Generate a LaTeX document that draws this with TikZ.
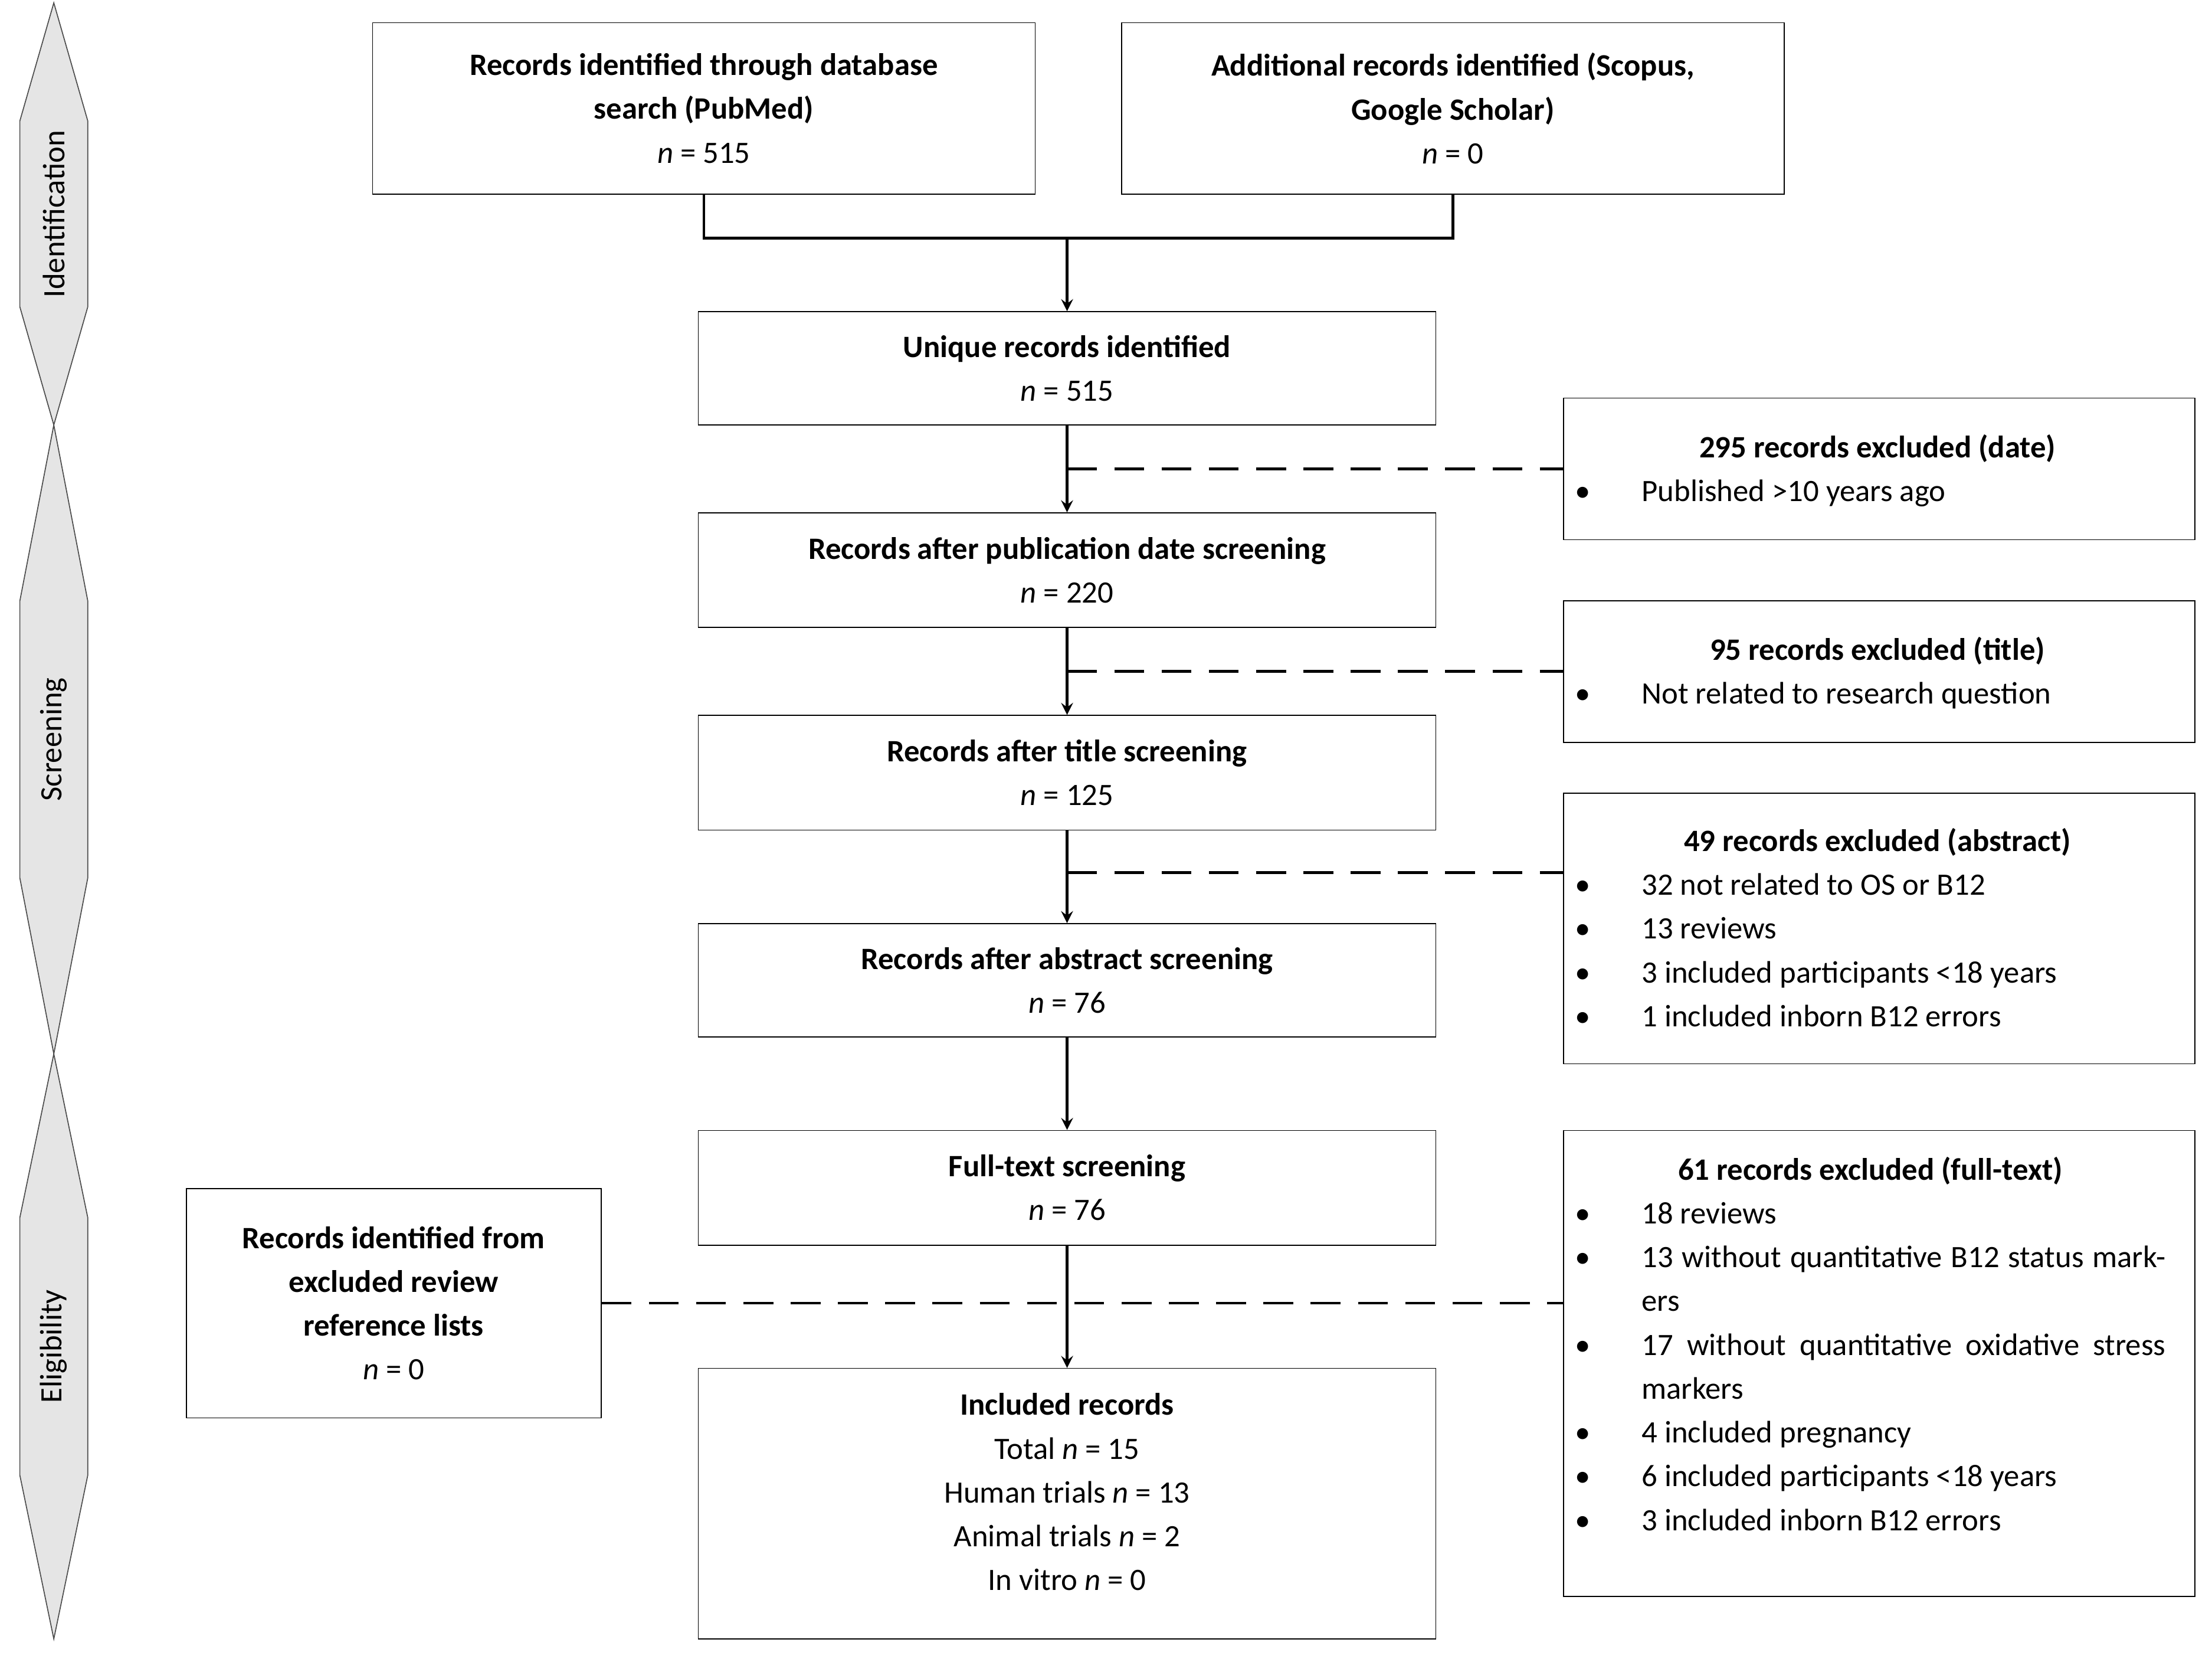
\documentclass[tikz,border=0pt]{standalone}
\usepackage{fontspec}
\setmainfont{Carlito}
\usetikzlibrary{positioning, calc}
\tikzset{
	box/.style={draw, thin, align=center, inner sep=0pt},
	arrow/.style={line width=1.1pt, ->, >=stealth},
	link/.style={line width=1.1pt},
	dashlink/.style={line width=1.1pt, dash pattern=on 12pt off 7pt},
	phase/.style={draw=black!70, fill=black!10, thin},
}
\newcommand{\phasebar}[3]{% top, bottom, label
	\pgfmathsetmacro{\tipd}{0.28*(#2-#1)}
	\draw[phase] (38,#1) -- (62,#1+\tipd) -- (62,#2-\tipd) -- (38,#2) -- (14,#2-\tipd) -- (14,#1+\tipd) -- cycle;
	\node[rotate=90] at (38,{(#1+#2)/2}) {#3};
}
\begin{document}
\begin{tikzpicture}[x=0.02cm, y=-0.02cm]
	\fontsize{12.5}{17.6}\selectfont
	\useasboundingbox (0,0) rectangle (1562,1171);
	% phase bars
	\phasebar{2}{300}{Identification}
	\phasebar{300}{744}{Screening}
	\phasebar{744}{1157}{Eligibility}

	% identification
	\node[box, minimum width=9.36cm, minimum height=2.42cm] (pubmed) at (497,76.5)
		{\textbf{Records identified through database}\\ \textbf{search (PubMed)}\\ \textit{n} = 515};
	\node[box, minimum width=9.36cm, minimum height=2.42cm] (extra) at (1026,76.5)
		{\textbf{Additional records identified (Scopus,}\\ \textbf{Google Scholar)}\\ \textit{n} = 0};
	\node[box, minimum width=10.42cm, minimum height=1.6cm] (unique) at (753.5,260)
		{\textbf{Unique records identified}\\ \textit{n} = 515};
	\coordinate (merge) at (753.5,168);
	\draw[link] (pubmed.south) |- (merge) -| (extra.south);
	\draw[arrow] (merge) -- (unique.north);

	% screening
	\node[box, minimum width=10.42cm, minimum height=1.62cm] (date) at (753.5,402.5)
		{\textbf{Records after publication date screening}\\ \textit{n} = 220};
	\node[box, minimum width=10.42cm, minimum height=1.62cm] (title) at (753.5,545.5)
		{\textbf{Records after title screening}\\ \textit{n} = 125};
	\node[box, minimum width=10.42cm, minimum height=1.6cm] (abstract) at (753.5,692)
		{\textbf{Records after abstract screening}\\ \textit{n} = 76};
	\node[box, minimum width=10.42cm, minimum height=1.62cm] (fulltext) at (753.5,838.5)
		{\textbf{Full-text screening}\\ \textit{n} = 76};
	\node[box, minimum width=10.42cm, minimum height=3.82cm] (included) at (753.5,1061.5) {};
	\node[anchor=north, align=center] (inclText) at (753.5,976)
		{\textbf{Included records}\\ Total \textit{n} = 15\\ Human trials \textit{n} = 13\\ Animal trials \textit{n} = 2\\ In vitro \textit{n} = 0};

	\draw[arrow] (unique) -- (date);
	\draw[arrow] (date) -- (title);
	\draw[arrow] (title) -- (abstract);
	\draw[arrow] (abstract) -- (fulltext);
	\draw[arrow] (fulltext) -- (included);

	% exclusions
	\node[box, minimum width=8.92cm, minimum height=2cm] (exDate) at (1327,331) {};
	\node[anchor=north west, inner sep=0pt] at (1112,301)
		{\begin{tabular}{@{}p{0.94cm}@{}p{7.6cm}@{}}
		\multicolumn{2}{c}{\textbf{295 records excluded (date)}}\\
		\textbullet & Published >10 years ago
		\end{tabular}};
	\node[box, minimum width=8.92cm, minimum height=2cm] (exTitle) at (1327,474) {};
	\node[anchor=north west, inner sep=0pt] at (1112,444)
		{\begin{tabular}{@{}p{0.94cm}@{}p{7.6cm}@{}}
		\multicolumn{2}{c}{\textbf{95 records excluded (title)}}\\
		\textbullet & Not related to research question
		\end{tabular}};
	\node[box, minimum width=8.92cm, minimum height=3.82cm] (exAbstract) at (1327,655.5) {};
	\node[anchor=north west, inner sep=0pt] at (1112,579)
		{\begin{tabular}{@{}p{0.94cm}@{}p{7.6cm}@{}}
		\multicolumn{2}{c}{\textbf{49 records excluded (abstract)}}\\
		\textbullet & 32 not related to OS or B12\\
		\textbullet & 13 reviews\\
		\textbullet & 3 included participants <18 years\\
		\textbullet & 1 included inborn B12 errors
		\end{tabular}};
	\node[box, minimum width=8.92cm, minimum height=6.58cm] (exFull) at (1327,962.5) {};
	\node[anchor=north west, inner sep=0pt] at (1112,811)
		{\begin{tabular}{@{}p{0.94cm}@{}p{7.4cm}@{}}
		\multicolumn{2}{c}{\textbf{61 records excluded (full-text)}}\\
		\textbullet & 18 reviews\\
		\textbullet & 13 without quantitative B12 status markers\\
		\textbullet & 17 without quantitative oxidative stress markers\\
		\textbullet & 4 included pregnancy\\
		\textbullet & 6 included participants <18 years\\
		\textbullet & 3 included inborn B12 errors
		\end{tabular}};

	\coordinate (cutDate) at (753.5,331);
	\coordinate (cutTitle) at (753.5,474);
	\coordinate (cutAbstract) at (753.5,616);
	\draw[dashlink] (cutDate) -- (exDate.west);
	\draw[dashlink] (cutTitle) -- (exTitle.west);
	\draw[dashlink] (cutAbstract) -- (exAbstract.west |- cutAbstract);

	% review reference lists
	\node[box, minimum width=5.86cm, minimum height=3.24cm] (reflists) at (278,920)
		{\textbf{Records identified from}\\ \textbf{excluded review}\\ \textbf{reference lists}\\ \textit{n} = 0};
	\draw[dashlink] (reflists.east) -- (exFull.west |- reflists.east);
\end{tikzpicture}
\end{document}
